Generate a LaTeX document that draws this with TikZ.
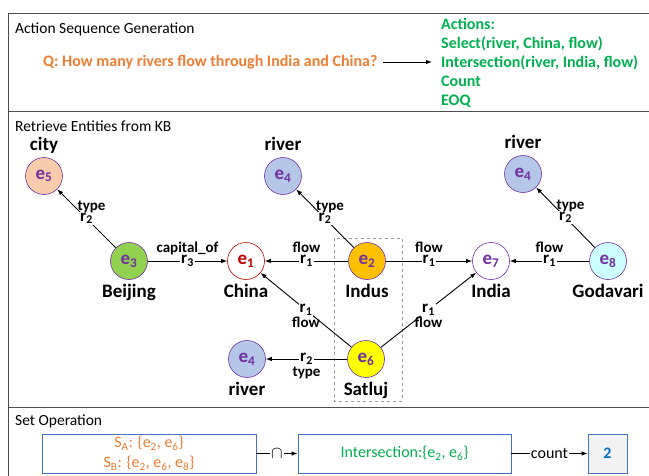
\documentclass[tikz,border=0pt]{standalone}
\usepackage{fontspec}
\setmainfont{Carlito}
\usetikzlibrary{arrows.meta,positioning}

\definecolor{entpurple}{HTML}{7030A0}
\definecolor{qorange}{HTML}{ED7D31}
\definecolor{actgreen}{HTML}{00B050}
\definecolor{boxblue}{HTML}{4472C4}
\definecolor{numblue}{HTML}{0070C0}
\definecolor{chinared}{HTML}{C00000}
\definecolor{cityfill}{HTML}{F8CBAD}
\definecolor{beijingfill}{HTML}{92D050}
\definecolor{riverfill}{HTML}{B4C7E7}
\definecolor{indusfill}{HTML}{FFC000}
\definecolor{godavarifill}{HTML}{CCFFFF}
\definecolor{satlujfill}{HTML}{FFFF00}
\newcommand{\fsz}[1]{\fontsize{#1}{#1}\selectfont}

\begin{document}
\begin{tikzpicture}[
  x=1pt, y=-1pt,
  >={Latex[length=6pt,width=4.5pt]},
  ent/.style={circle, draw=entpurple, line width=0.6pt, minimum size=37pt, inner sep=0pt, text=entpurple, font=\fsz{19}\bfseries},
  lbl/.style={font=\fsz{19}\bfseries, inner sep=0pt, text height=12pt, text depth=4pt},
  rel/.style={fill=white, inner sep=1pt, font=\fsz{17}\bfseries, text height=8pt, text depth=3pt, label distance=3pt},
  rname/.style={font=\fsz{15}\bfseries, inner sep=0pt, text height=10pt, text depth=1pt},
  link/.style={->, line width=0.9pt},
  sec/.style={anchor=west, font=\fsz{15.5}, inner sep=0pt},
  setbox/.style={draw=boxblue, line width=0.8pt, minimum height=39pt, inner sep=2pt},
  frame/.style={draw=black!70, line width=0.8pt}
]
\useasboundingbox (0,0) rectangle (649,475);
\clip (0,0) rectangle (649,475);

% Cadre et separations
\draw[frame] (8,13) rectangle (700,520);
\draw[frame] (8,111) -- (700,111);
\draw[frame] (8,407) -- (700,407);

% Action Sequence Generation
\node[sec] (t1) at (15,29) {Action Sequence Generation};
\node[anchor=west, text=qorange, font=\fsz{16}\bfseries, inner sep=1pt] (q) at (42,62) {Q: How many rivers flow through India and China?};
\node[anchor=west, align=left, text=actgreen, font=\fontsize{16}{19}\selectfont\bfseries, inner sep=1pt] (acts) at (440,62.5)
  {Actions:\\Select(river, China, flow)\\Intersection(river, India, flow)\\Count\\EOQ};
\draw[->, line width=0.9pt, shorten <=4pt, shorten >=8pt] (q) -- (q -| acts.west);

% Retrieve Entities from KB
\node[sec] (t2) at (15,126) {Retrieve Entities from KB};

\draw[dashed, black!40, line width=0.8pt] (334,238) rectangle (402,401);

% Entites
\node[ent, fill=cityfill] (e5) at (44,176) {e\textsubscript{5}};
\node[ent, fill=beijingfill] (e3) at (129,261) {e\textsubscript{3}};
\node[ent, fill=white, draw=chinared, text=chinared] (e1) at (246,261) {e\textsubscript{1}};
\node[ent, fill=riverfill] (e4a) at (283,176) {e\textsubscript{4}};
\node[ent, fill=indusfill] (e2) at (367,261) {e\textsubscript{2}};
\node[ent, fill=white] (e7) at (491,261) {e\textsubscript{7}};
\node[ent, fill=riverfill] (e4b) at (523,174) {e\textsubscript{4}};
\node[ent, fill=godavarifill] (e8) at (608,261) {e\textsubscript{8}};
\node[ent, fill=satlujfill] (e6) at (366,359) {e\textsubscript{6}};
\node[ent, fill=riverfill] (e4c) at (247,359) {e\textsubscript{4}};

% Noms
\node[lbl, above=2.5pt of e5] (city) {city};
\node[lbl, above=2.5pt of e4a] (rivera) {river};
\node[lbl, above=2.5pt of e4b] (riverb) {river};
\node[lbl, below=5.5pt of e3] (beijing) {Beijing};
\node[lbl, below=5.5pt of e1] (china) {China};
\node[lbl, below=5.5pt of e2] (indus) {Indus};
\node[lbl, below=5.5pt of e7] (india) {India};
\node[lbl, below=5.5pt of e8] (godavari) {Godavari};
\node[lbl, below=5.5pt of e6] (satluj) {Satluj};
\node[lbl, below=5.5pt of e4c] (riverc) {river};

% Relations
\draw[link] (e3) -- node[rel, label={[rname, xshift=5pt]above:type}] (r2a) {r\textsubscript{2}} (e5);
\draw[link] (e3) -- node[rel, label={[rname]above:capital\_of}] (r3) {r\textsubscript{3}} (e1);
\draw[link] (e2) -- node[rel, label={[rname]above:flow}] (r1a) {r\textsubscript{1}} (e1);
\draw[link] (e2) -- node[rel, label={[rname, xshift=5pt]above:type}] (r2b) {r\textsubscript{2}} (e4a);
\draw[link] (e2) -- node[rel, label={[rname]above:flow}] (r1b) {r\textsubscript{1}} (e7);
\draw[link] (e8) -- node[rel, label={[rname]above:flow}] (r1c) {r\textsubscript{1}} (e7);
\draw[link] (e8) -- node[rel, label={[rname, xshift=5pt]above:type}] (r2c) {r\textsubscript{2}} (e4b);
\draw[link] (e6) -- node[rel, label={[rname]below:flow}] (r1d) {r\textsubscript{1}} (e1);
\draw[link] (e6) -- node[rel, label={[rname]below:flow}] (r1e) {r\textsubscript{1}} (e7);
\draw[link] (e6) -- node[rel, label={[rname]below:type}] (r2d) {r\textsubscript{2}} (e4c);

% Set Operation
\node[sec] (t3) at (15,421) {Set Operation};
\node[setbox, minimum width=214pt, text=qorange, align=center, font=\fontsize{16}{20}\selectfont] (sab) at (149,453.5)
  {S\textsubscript{A}: \{e\textsubscript{2}, e\textsubscript{6}\}\\S\textsubscript{B}: \{e\textsubscript{2}, e\textsubscript{6}, e\textsubscript{8}\}};
\node[setbox, minimum width=213pt, text=actgreen, font=\fsz{16}] (inter) at (404.5,453.5) {Intersection:\{e\textsubscript{2}, e\textsubscript{6}\}};
\node[setbox, minimum width=39pt, fill=black!5, text=numblue, font=\fsz{16}\bfseries] (res) at (607.5,453.5) {2};
\draw[->, line width=0.9pt] (sab) -- node[fill=white, inner sep=1pt, font=\fsz{17}] (capop) {$\cap$} (inter);
\draw[->, line width=0.9pt] (inter) -- node[fill=white, inner sep=1pt, font=\fsz{16}] (cntop) {count} (res);

\end{tikzpicture}
\end{document}
